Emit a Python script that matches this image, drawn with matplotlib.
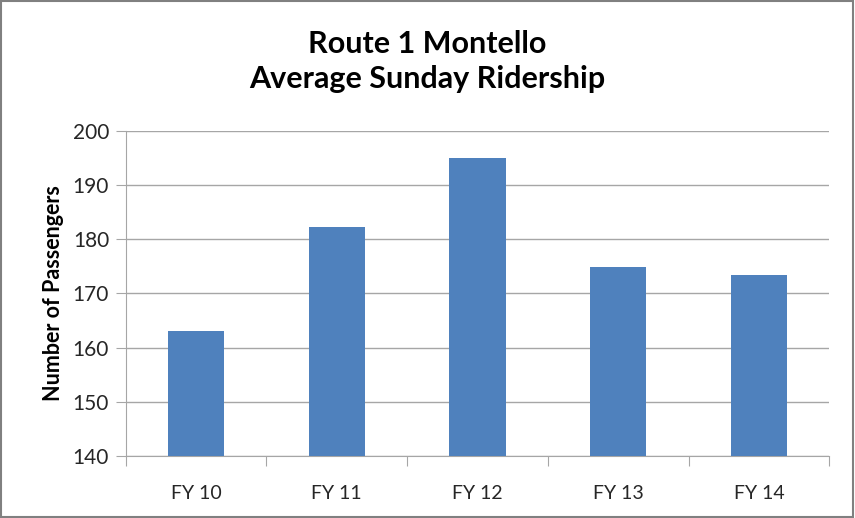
import matplotlib
matplotlib.use("Agg")
import matplotlib.pyplot as plt
from matplotlib.patches import Rectangle
import numpy as np

plt.rcParams["font.family"] = ["Lato", "DejaVu Sans"]

# ── データ ──
YEARS = ["FY 10", "FY 11", "FY 12", "FY 13", "FY 14"]
RIDERS = [163.1, 182.3, 195.0, 174.9, 173.4]

TITLE = "Route 1 Montello\nAverage Sunday Ridership"
Y_LABEL = "Number of Passengers"

BAR_COLOR = "#4F81BD"
GRID_COLOR = "#A6A6A6"


def main():
    fig = plt.figure(figsize=(8.55, 5.18), dpi=100)
    ax = fig.add_axes([0.147, 0.120, 0.823, 0.627])

    x = np.arange(len(YEARS))
    ax.bar(x, RIDERS, width=0.4, color=BAR_COLOR, zorder=3)

    ax.set_ylim(140, 200)
    ax.set_xlim(-0.5, len(YEARS) - 0.5)
    ax.set_yticks(range(140, 201, 10))
    ax.yaxis.grid(True, color=GRID_COLOR, linewidth=1.0, zorder=0)

    # 区切り位置に目盛り（Excel 風）
    ax.set_xticks(np.arange(-0.5, len(YEARS), 1.0))
    ax.set_xticklabels([])
    ax.set_xticks(x, minor=True)
    ax.set_xticklabels(YEARS, minor=True, fontsize=14, color="#262626")
    ax.tick_params(axis="x", which="major", length=7, color=GRID_COLOR)
    ax.tick_params(axis="x", which="minor", length=0, pad=21)
    ax.tick_params(axis="y", length=7, color=GRID_COLOR, labelsize=15,
                   labelcolor="#262626", pad=5)

    for side in ("top", "right"):
        ax.spines[side].set_visible(False)
    for side in ("left", "bottom"):
        ax.spines[side].set_color(GRID_COLOR)

    ax.set_ylabel(Y_LABEL, fontsize=15.5, fontweight="bold", labelpad=6)
    fig.text(0.5, 0.881, TITLE, ha="center", va="center", fontsize=22,
             fontweight="bold", linespacing=1.3)

    # 外枠
    fig.patches.append(Rectangle((0.001, 0.002), 0.997, 0.996, transform=fig.transFigure,
                                 fill=False, edgecolor="#808080", linewidth=1.5))

    fig.savefig("out.png", dpi=100)
    plt.close(fig)


if __name__ == "__main__":
    main()
